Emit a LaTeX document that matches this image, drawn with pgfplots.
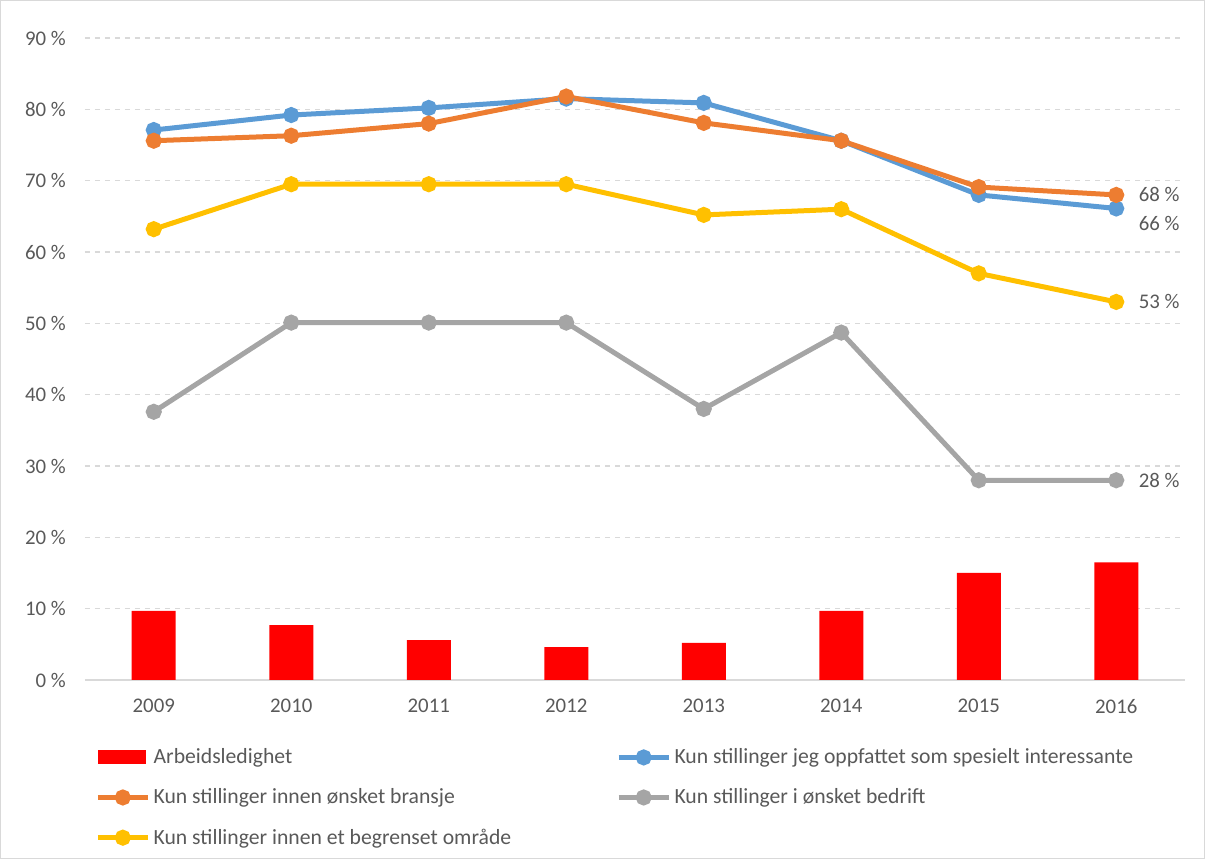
\documentclass[border=0pt]{standalone}
\usepackage{fontspec}
\setmainfont{Carlito}
\usepackage{pgfplots}
\pgfplotsset{compat=1.18}
\usetikzlibrary{calc}

\definecolor{cblue}{HTML}{5B9BD5}
\definecolor{corange}{HTML}{ED7D31}
\definecolor{cgray}{HTML}{A5A5A5}
\definecolor{cyellow}{HTML}{FFC000}
\definecolor{ctext}{HTML}{595959}
\definecolor{cgrid}{HTML}{D9D9D9}

\pgfplotsset{
    mylegline/.style={legend image code/.code={
        \draw[mark repeat=2, mark phase=2, ##1] plot coordinates {(0pt,0pt) (15pt,0pt) (30pt,0pt)};}},
}

\begin{document}
\begin{tikzpicture}[font=\fontsize{12.5}{15}\selectfont, text=ctext]
\begin{axis}[
    name=ax,
    scale only axis,
    width=660pt, height=385.2pt,
    xmin=-0.5, xmax=7.5,
    ymin=0, ymax=90,
    xtick={0,1,2,3,4,5,6,7},
    xticklabels={2009,2010,2011,2012,2013,2014,2015,2016},
    ytick={0,10,20,30,40,50,60,70,80,90},
    yticklabel={\pgfmathprintnumber{\tick}~\%},
    /pgf/number format/assume math mode=true,
    major tick length=0pt,
    axis x line*=bottom,
    axis y line*=left,
    axis line style={-},
    x axis line style={draw=cgrid, line width=1pt},
    y axis line style={draw=none},
    ymajorgrids=true,
    grid style={dashed, draw=cgrid, line width=0.7pt},
    xticklabel style={yshift=-8pt},
    yticklabel style={xshift=-8pt},
    legend columns=2,
    legend cell align=left,
    legend style={at={(0,0)}, anchor=north west, xshift=3pt, yshift=-37pt,
        draw=none, fill=none, row sep=9.5pt, font=\fontsize{13}{15.6}\selectfont,
        /tikz/column 2/.style={column sep=61pt}},
]

\addplot[ybar, bar width=0.32, fill=red, draw=none,
    legend image code/.code={\fill[red] (0pt,-4.2pt) rectangle (29pt,4.2pt);}]
    coordinates {(0,9.7) (1,7.7) (2,5.6) (3,4.6) (4,5.2) (5,9.7) (6,15.0) (7,16.5)};
\addlegendentry{Arbeidsledighet}

\addplot[cblue, line width=3pt, mark=*, mark size=3.3pt, mylegline]
    coordinates {(0,77.1) (1,79.2) (2,80.2) (3,81.5) (4,80.9) (5,75.6) (6,68.0) (7,66.1)};
\addlegendentry{Kun stillinger jeg oppfattet som spesielt interessante}

\addplot[corange, line width=3pt, mark=*, mark size=3.3pt, mylegline]
    coordinates {(0,75.6) (1,76.3) (2,78.0) (3,81.8) (4,78.1) (5,75.6) (6,69.1) (7,68.0)};
\addlegendentry{Kun stillinger innen ønsket bransje}

\addplot[cgray, line width=3pt, mark=*, mark size=3.3pt, mylegline]
    coordinates {(0,37.6) (1,50.1) (2,50.1) (3,50.1) (4,38.0) (5,48.7) (6,28.0) (7,28.0)};
\addlegendentry{Kun stillinger i ønsket bedrift}

\addplot[cyellow, line width=3pt, mark=*, mark size=3.3pt, mylegline]
    coordinates {(0,63.2) (1,69.5) (2,69.5) (3,69.5) (4,65.2) (5,66.0) (6,57.0) (7,53.0)};
\addlegendentry{Kun stillinger innen et begrenset område}

\node[anchor=west, xshift=10pt] at (axis cs:7,68.0) {68 \%};
\node[anchor=west, xshift=10pt, yshift=-9pt] at (axis cs:7,66.1) {66 \%};
\node[anchor=west, xshift=10pt] at (axis cs:7,53.0) {53 \%};
\node[anchor=west, xshift=10pt] at (axis cs:7,28.0) {28 \%};
\end{axis}
\draw[cgrid, line width=0.6pt] ($(ax.south west)+(-50.7pt,-107.1pt)$) rectangle ($(ax.north east)+(11.7pt,22.5pt)$);
\end{tikzpicture}
\end{document}
